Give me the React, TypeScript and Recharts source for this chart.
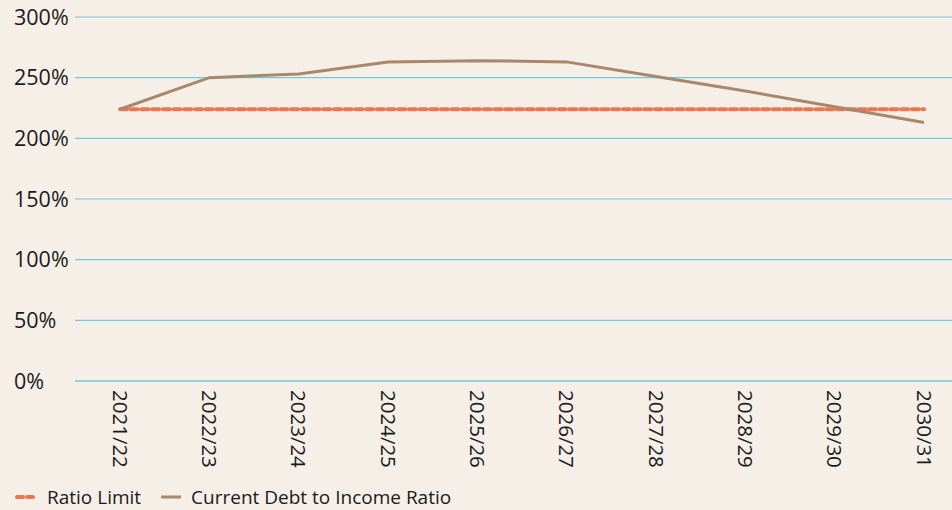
import React from "react";
import { LineChart, Line, XAxis, YAxis, CartesianGrid, Legend } from "recharts";

const categories = ["2021/22", "2022/23", "2023/24", "2024/25", "2025/26", "2026/27", "2027/28", "2028/29", "2029/30", "2030/31"];
const ratioLimit = [224, 224, 224, 224, 224, 224, 224, 224, 224, 224];
const currentRatio = [224, 250, 253, 263, 264, 263, 251, 239, 226, 213];
const yTicks = [0, 50, 100, 150, 200, 250, 300];

const data = categories.map((c, i) => ({ year: c, limit: ratioLimit[i], current: currentRatio[i] }));

const FONT = "'Open Sans', sans-serif";
const LIMIT_COLOR = "#EE7550";
const CURRENT_COLOR = "#A8876A";
const GRID_COLOR = "#6CCCDC";

const YTick = (props: any) => {
  const { y, payload } = props;
  return (
    <text x={14} y={y} dy="0.35em" textAnchor="start" fill="#1a1a1a" fontSize={21.5} fontFamily={FONT}>
      {payload.value}%
    </text>
  );
};

const XTick = (props: any) => {
  const { x, y, payload } = props;
  return (
    <g transform={`translate(${x},${y})`}>
      <text x={0} y={0} transform="rotate(90)" dx={1} dy="0.35em" textAnchor="start" fill="#1a1a1a" fontSize={20.5} fontFamily={FONT}>
        {payload.value}
      </text>
    </g>
  );
};

const LegendContent = () => (
  <div style={{ display: "flex", alignItems: "center", fontFamily: FONT, fontSize: 19, lineHeight: "22px", color: "#1a1a1a", paddingLeft: 15, paddingTop: 5 }}>
    <svg width={22} height={10} style={{ marginRight: 10 }}>
      <line x1={2} y1={5} x2={20} y2={5} stroke={LIMIT_COLOR} strokeWidth={4} strokeDasharray="6 4" strokeLinecap="round" />
    </svg>
    <span style={{ marginRight: 20 }}>Ratio Limit</span>
    <svg width={20} height={10} style={{ marginRight: 10 }}>
      <line x1={0} y1={5} x2={20} y2={5} stroke={CURRENT_COLOR} strokeWidth={3} />
    </svg>
    <span>Current Debt to Income Ratio</span>
  </div>
);

export default function App() {
  return (
    <div style={{ position: "fixed", left: 0, top: 0, width: 952, height: 510, background: "#F6EFE8" }}>
      <LineChart width={952} height={510} data={data} margin={{ top: 17, right: 0, bottom: 0, left: 0 }}>
        <CartesianGrid horizontal vertical={false} stroke={GRID_COLOR} strokeWidth={1.2} />
        <XAxis
          dataKey="year"
          height={100}
          tick={<XTick />}
          tickLine={false}
          axisLine={{ stroke: "#94D4D6", strokeWidth: 2 }}
          interval={0}
          padding={{ left: 45, right: 28 }}
        />
        <YAxis
          width={75}
          domain={[0, 300]}
          ticks={yTicks}
          tick={<YTick />}
          tickLine={false}
          axisLine={false}
        />
        <Legend verticalAlign="bottom" align="left" height={29} content={<LegendContent />} />
        <Line dataKey="limit" name="Ratio Limit" stroke={LIMIT_COLOR} strokeWidth={4} strokeDasharray="7 3.7" strokeLinecap="round" dot={false} isAnimationActive={false} />
        <Line dataKey="current" name="Current Debt to Income Ratio" stroke={CURRENT_COLOR} strokeWidth={3} dot={false} isAnimationActive={false} />
      </LineChart>
    </div>
  );
}
